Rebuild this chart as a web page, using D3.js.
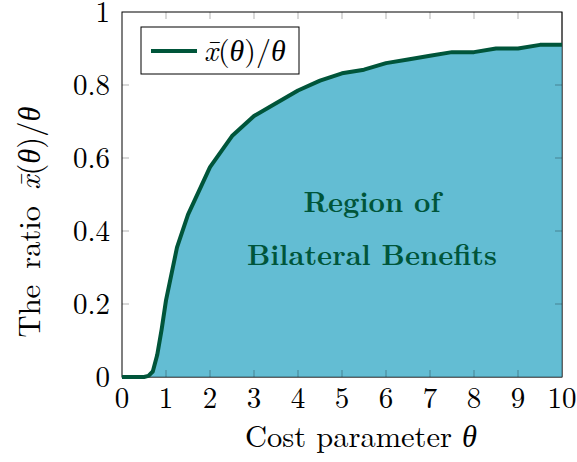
<!DOCTYPE html>
<html>
<head>
<meta charset="utf-8">
<script src="https://cdn.jsdelivr.net/npm/d3@7"></script>
<style>
  body { margin: 0; background: #fff; }
</style>
</head>
<body>
<div id="chart"></div>
<script>
// cost parameter theta and the ratio xbar(theta)/theta
var theta = [0, 0.5, 0.6, 0.7, 0.8, 0.9, 1, 1.25, 1.5, 2, 2.5, 3, 3.5, 4, 4.5, 5, 5.5, 6, 6.5, 7, 7.5, 8, 8.5, 9, 9.5, 10];
var ratio = [0, 0, 0.003, 0.015, 0.06, 0.13, 0.21, 0.355, 0.445, 0.575, 0.66, 0.715, 0.75, 0.785, 0.812, 0.832, 0.842, 0.86, 0.87, 0.88, 0.89, 0.89, 0.9, 0.9, 0.91, 0.91];
var xTicks = [0, 1, 2, 3, 4, 5, 6, 7, 8, 9, 10];
var yTicks = [0, 0.2, 0.4, 0.6, 0.8, 1];

var data = theta.map(function(t, i) { return {t: t, r: ratio[i]}; });

var W = 577, H = 462;
var margin = {top: 12, right: 15, bottom: 85, left: 122},
    width = W - margin.left - margin.right,
    height = H - margin.top - margin.bottom;

var lineColor = "#00553a", fillColor = "#63bdd3";
var font = "'Latin Modern Roman', 'Liberation Serif', serif";

var svg = d3.select("#chart")
  .append("svg")
    .attr("width", W)
    .attr("height", H)
    .style("font-family", font)
  .append("g")
    .attr("transform", "translate(" + margin.left + "," + margin.top + ")");

var x = d3.scaleLinear().domain([0, 10]).range([0, width]);
var y = d3.scaleLinear().domain([0, 1]).range([height, 0]);

// frame
svg.append("rect")
  .attr("width", width).attr("height", height)
  .attr("fill", "none").attr("stroke", "#000").attr("stroke-width", 1);

// filled region
svg.append("path")
  .datum(data)
  .attr("fill", fillColor)
  .attr("d", d3.area()
    .x(function(d) { return x(d.t); })
    .y0(y(0))
    .y1(function(d) { return y(d.r); }));

// ticks, inward on all four sides
var tl = 7;
var tickG = svg.append("g").attr("stroke", "rgba(0,0,0,0.3)").attr("stroke-width", 1);
xTicks.forEach(function(t) {
  if (t === 0 || t === 10) return;
  tickG.append("line").attr("x1", x(t)).attr("x2", x(t)).attr("y1", height).attr("y2", height - tl);
  tickG.append("line").attr("x1", x(t)).attr("x2", x(t)).attr("y1", 0).attr("y2", tl);
});
yTicks.forEach(function(t) {
  if (t === 0 || t === 1) return;
  tickG.append("line").attr("x1", 0).attr("x2", tl).attr("y1", y(t)).attr("y2", y(t));
  tickG.append("line").attr("x1", width).attr("x2", width - tl).attr("y1", y(t)).attr("y2", y(t));
});

// bottom/right edges over fill, tinted
svg.append("line").attr("x1", 0).attr("x2", width).attr("y1", height).attr("y2", height)
  .attr("stroke", "rgba(0,0,0,0.45)");
svg.append("line").attr("x1", width).attr("x2", width).attr("y1", 0).attr("y2", height)
  .attr("stroke", "rgba(0,0,0,0.45)");

// curve
svg.append("path")
  .datum(data)
  .attr("fill", "none")
  .attr("stroke", lineColor)
  .attr("stroke-width", 4)
  .attr("stroke-linejoin", "round")
  .attr("d", d3.line()
    .x(function(d) { return x(d.t); })
    .y(function(d) { return y(d.r); }));

// tick labels
svg.append("g").selectAll("text").data(xTicks).join("text")
  .attr("x", function(d) { return x(d); })
  .attr("y", height + 31)
  .attr("text-anchor", "middle")
  .attr("font-size", 29)
  .text(function(d) { return d; });

svg.append("g").selectAll("text").data(yTicks).join("text")
  .attr("x", -12)
  .attr("y", function(d) { return y(d) + 10; })
  .attr("text-anchor", "end")
  .attr("font-size", 29)
  .text(function(d) { return d === 0 || d === 1 ? d : d3.format(".1f")(d); });

// axis titles
var th = '<tspan font-family="Liberation Serif" font-style="italic">θ</tspan>';
var math = '<tspan font-style="italic">x̄</tspan>(' + th + ')/' + th;

svg.append("text")
  .attr("x", 239)
  .attr("y", height + 70)
  .attr("text-anchor", "middle")
  .attr("font-size", 30.5)
  .html('Cost parameter ' + th);

svg.append("text")
  .attr("transform", "translate(" + (-82) + "," + 210 + ") rotate(-90)")
  .attr("text-anchor", "middle")
  .attr("font-size", 30.5)
  .html('The <tspan dx="6">ratio</tspan> <tspan dx="6" font-style="italic">x̄</tspan>(' + th + ')/' + th);

// region label
var lab = svg.append("g").attr("fill", lineColor).attr("font-weight", "bold")
  .attr("font-size", 28.5).attr("text-anchor", "middle");
lab.append("text").attr("x", 250).attr("y", 200).text("Region of");
lab.append("text").attr("x", 250).attr("y", 253).text("Bilateral Benefits");

// legend
var leg = svg.append("g").attr("transform", "translate(19,15)");
leg.append("rect").attr("width", 158).attr("height", 47)
  .attr("fill", "#fff").attr("stroke", "#000").attr("stroke-width", 1);
leg.append("line").attr("x1", 10).attr("x2", 56).attr("y1", 24).attr("y2", 24)
  .attr("stroke", lineColor).attr("stroke-width", 4);
leg.append("text").attr("x", 63).attr("y", 34).attr("font-size", 30)
  .html(math);
</script>
</body>
</html>
